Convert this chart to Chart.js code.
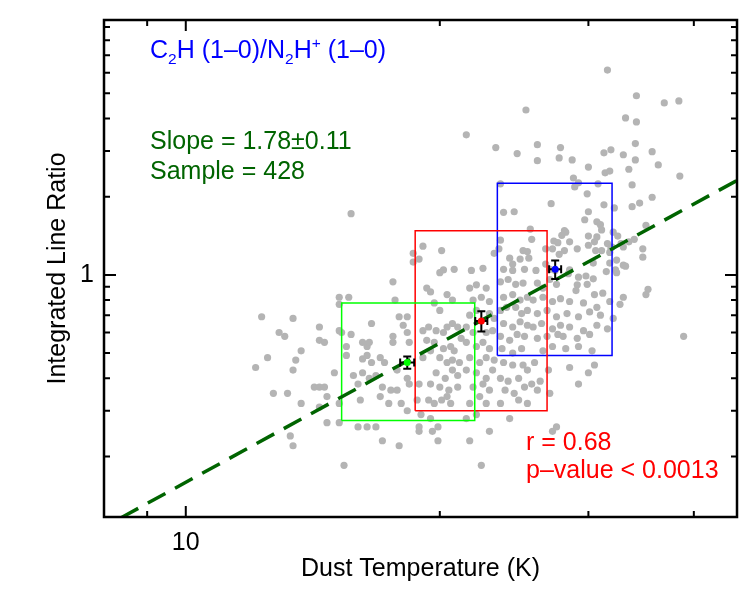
<!DOCTYPE html>
<html>
<head>
<meta charset="utf-8">
<script src="https://cdn.jsdelivr.net/npm/chart.js@4.4.0/dist/chart.umd.min.js"></script>
<style>
    body { margin: 0; background: #fff; }
</style>
</head>
<body>
<canvas id="myChart" width="750" height="600"></canvas>
<script>
// dust temperature (K) and integrated line ratio of each source
const temps = [
    31.6, 34.2, 36.9, 38.4, 25.3, 33.2, 34.2, 21.5, 23.3, 24.7,
    26.1, 27.8, 31.3, 31.9, 34.1, 35.7, 26.1, 27.7, 28.7, 33.0,
    34.1, 30.0, 31.4, 31.8, 33.5, 36.3, 38.5, 28.8, 29.2, 28.9,
    30.8, 33.8, 23.6, 29.9, 27.1, 31.3, 33.8, 34.5, 35.7, 32.2,
    30.0, 29.7, 30.7, 31.0, 31.1, 35.1, 28.1, 28.2, 32.1, 32.5,
    30.0, 30.7, 27.3, 27.6, 28.5, 30.0, 30.5, 31.6, 32.0, 33.5,
    34.0, 32.8, 27.2, 28.1, 27.7, 29.1, 30.6, 31.1, 31.9, 34.8,
    34.8, 30.4, 31.8, 33.0, 23.8, 24.5, 25.6, 25.7, 19.1, 20.1,
    18.6, 18.9, 18.6, 23.6, 23.5, 23.2, 25.4, 25.5, 24.2, 24.9,
    24.4, 26.7, 20.2, 20.8, 21.8, 22.5, 23.8, 25.2, 15.7, 27.9,
    26.7, 25.1, 24.4, 26.0, 27.0, 27.4, 28.5, 28.4, 29.2, 29.8,
    30.4, 29.9, 31.5, 32.3, 32.4, 33.2, 29.1, 29.0, 30.5, 31.2,
    21.7, 22.1, 22.7, 23.6, 24.1, 24.6, 25.1, 26.1, 26.5, 27.0,
    27.5, 19.5, 19.3, 20.0, 17.6, 33.0, 32.4, 31.8, 33.0, 35.3,
    35.1, 38.9, 17.7, 19.7, 20.0, 20.4, 20.7, 21.9, 22.4, 22.9,
    21.7, 22.1, 22.9, 23.2, 23.8, 24.4, 24.9, 25.4, 23.6, 24.0,
    24.6, 25.0, 25.4, 25.8, 26.5, 27.2, 27.8, 26.1, 26.8, 27.5,
    28.5, 29.6, 30.7, 31.8, 32.7, 28.3, 29.2, 30.1, 31.0, 32.1,
    17.9, 18.3, 15.2, 15.2, 15.6, 12.3, 13.4, 16.6, 18.1, 19.1,
    19.4, 19.3, 18.3, 18.4, 19.8, 20.2, 20.4, 20.7, 21.0, 21.2,
    21.5, 21.9, 22.7, 23.1, 23.8, 24.4, 24.9, 25.4, 25.8, 26.4,
    27.2, 27.8, 28.5, 29.6, 30.7, 31.6, 23.6, 24.2, 24.7, 25.2,
    26.1, 26.8, 27.6, 28.0, 29.1, 30.1, 19.7, 21.5, 22.1, 22.5,
    16.2, 16.4, 16.5, 17.6, 17.6, 15.3, 15.7, 12.9, 13.1, 14.4,
    14.4, 14.6, 15.2, 20.2, 20.6, 20.8, 22.9, 23.7, 24.4, 25.0,
    26.5, 27.2, 28.2, 29.2, 30.3, 15.5, 15.5, 16.2, 16.4, 17.0,
    17.2, 16.6, 19.1, 19.5, 20.0, 20.4, 20.7, 21.1, 21.7, 22.3,
    22.7, 23.2, 23.8, 24.4, 25.1, 25.4, 25.9, 26.9, 28.5, 30.5,
    13.7, 13.5, 12.5, 12.1, 13.4, 16.2, 16.5, 16.8, 15.0, 19.8,
    20.3, 20.7, 21.0, 21.5, 22.1, 22.7, 23.1, 17.8, 18.3, 15.8,
    23.6, 24.1, 24.8, 26.3, 25.7, 26.1, 27.0, 18.4, 18.9, 19.5,
    16.0, 17.1, 17.5, 20.0, 20.5, 21.0, 21.9, 22.5, 22.9, 23.9,
    24.5, 25.2, 12.7, 13.2, 14.2, 14.4, 14.6, 14.7, 17.8, 17.0,
    18.0, 17.4, 16.1, 18.8, 19.4, 19.7, 20.1, 20.4, 20.6, 21.7,
    22.3, 22.7, 23.6, 24.8, 25.4, 13.7, 14.4, 15.2, 30.0, 29.2,
    18.3, 19.0, 21.5, 22.1, 24.2, 14.7, 15.2, 16.0, 16.4, 16.8,
    18.9, 18.9, 19.5, 19.9, 19.6, 22.9, 13.3, 13.4, 22.4, 15.4,
    17.1, 17.9, 19.9, 21.7, 27.2, 27.5
];
const ratios = [
    6.14, 4.89, 4.59, 4.67, 4.31, 4.02, 3.88, 3.46, 3.09, 2.93,
    3.17, 3.09, 2.95, 3.03, 3.20, 2.98, 2.75, 2.82, 2.77, 2.90,
    2.77, 2.60, 2.47, 2.51, 2.55, 2.65, 2.40, 2.36, 2.26, 2.18,
    2.24, 2.22, 2.24, 2.05, 1.88, 1.86, 1.83, 1.89, 1.99, 1.81,
    1.75, 1.63, 1.60, 1.56, 1.49, 1.55, 1.48, 1.46, 1.46, 1.41,
    1.41, 1.40, 1.35, 1.33, 1.34, 1.30, 1.34, 1.32, 1.28, 1.34,
    1.37, 1.32, 1.26, 1.24, 1.20, 1.26, 1.24, 1.24, 1.27, 1.26,
    1.17, 1.11, 1.11, 1.09, 1.74, 1.75, 1.50, 1.37, 1.29, 1.24,
    1.21, 1.15, 1.12, 1.36, 1.26, 1.21, 1.23, 1.16, 1.16, 1.15,
    1.10, 1.10, 1.045, 1.05, 1.04, 1.06, 1.05, 1.05, 1.72, 1.42,
    1.26, 1.24, 1.04, 1.04, 1.05, 1.04, 1.045, 1.01, 0.98, 0.99,
    0.966, 0.92, 1.03, 1.045, 1.02, 1.08, 0.916, 0.87, 0.84, 0.85,
    0.89, 0.916, 0.89, 0.94, 0.96, 0.92, 0.93, 0.93, 0.89, 0.96,
    0.92, 0.86, 0.89, 1.02, 0.94, 1.28, 1.14, 1.22, 0.82, 0.88,
    0.84, 0.58, 0.80, 0.78, 0.73, 0.84, 0.80, 0.80, 0.82, 0.79,
    0.70, 0.73, 0.71, 0.68, 0.82, 0.84, 0.80, 0.82, 0.73, 0.75,
    0.75, 0.71, 0.73, 0.80, 0.82, 0.79, 0.81, 0.71, 0.73, 0.69,
    0.79, 0.78, 0.75, 0.79, 0.77, 0.71, 0.69, 0.72, 0.70, 0.68,
    0.69, 0.69, 0.77, 0.82, 0.82, 0.69, 0.68, 0.65, 0.64, 0.61,
    0.63, 0.56, 0.60, 0.55, 0.61, 0.60, 0.63, 0.65, 0.63, 0.57,
    0.63, 0.60, 0.60, 0.61, 0.65, 0.63, 0.66, 0.64, 0.63, 0.65,
    0.62, 0.64, 0.63, 0.61, 0.64, 0.62, 0.58, 0.56, 0.59, 0.58,
    0.57, 0.58, 0.59, 0.58, 0.57, 0.59, 0.55, 0.55, 0.53, 0.55,
    0.55, 0.53, 0.55, 0.58, 0.55, 0.60, 0.59, 0.60, 0.58, 0.63,
    0.56, 0.55, 0.61, 0.52, 0.53, 0.51, 0.52, 0.52, 0.50, 0.52,
    0.51, 0.53, 0.52, 0.53, 0.51, 0.53, 0.49, 0.475, 0.49, 0.48,
    0.46, 0.46, 0.48, 0.51, 0.48, 0.46, 0.47, 0.46, 0.48, 0.46,
    0.48, 0.47, 0.46, 0.45, 0.45, 0.43, 0.46, 0.43, 0.44, 0.45,
    0.51, 0.47, 0.48, 0.44, 0.43, 0.42, 0.40, 0.41, 0.42, 0.42,
    0.40, 0.43, 0.41, 0.43, 0.42, 0.40, 0.43, 0.43, 0.40, 0.41,
    0.40, 0.39, 0.40, 0.39, 0.38, 0.36, 0.35, 0.38, 0.38, 0.38,
    0.38, 0.37, 0.36, 0.37, 0.36, 0.37, 0.37, 0.38, 0.36, 0.36,
    0.35, 0.37, 0.35, 0.35, 0.37, 0.37, 0.37, 0.34, 0.36, 0.34,
    0.32, 0.32, 0.33, 0.33, 0.33, 0.32, 0.33, 0.34, 0.32, 0.32,
    0.34, 0.32, 0.32, 0.33, 0.32, 0.32, 0.31, 0.32, 0.42, 0.38,
    0.30, 0.29, 0.28, 0.29, 0.28, 0.27, 0.27, 0.26, 0.26, 0.26,
    0.26, 0.25, 0.28, 0.26, 0.25, 0.25, 0.24, 0.22, 0.185, 0.185,
    0.23, 0.22, 0.23, 0.23, 0.25, 0.26
];

// binned means (green, red, blue) and their errors
const meanT = [18.3, 22.4, 27.4];
const meanR = [0.46, 0.665, 1.05];
const errT = [0.35, 0.37, 0.45];
const errR = [0.025, 0.06, 0.085];

// bin boxes
const boxTmin = [15.3, 18.7, 23.4];
const boxTmax = [22.0, 26.8, 32.0];
const boxRmin = [0.275, 0.30, 0.49];
const boxRmax = [0.78, 1.48, 2.25];
const binColors = ['#00ff00', '#ff0000', '#0000ff'];

// power-law fit, slope 1.78
const fitT = [8, 45];
const fitR = [0.107, 2.31];

// axis ticks
const xMajorTicks = [10];
const xMinorTicks = [9, 20, 30, 40];
const yMajorTicks = [1];
const yMinorTicks = [0.2, 0.3, 0.4, 0.5, 0.6, 0.7, 0.8, 0.9, 2, 3, 4, 5, 6, 7, 8, 9];

const FONT = '"Liberation Sans", Arial, Helvetica, sans-serif';

var datasets = [];
// means on top
datasets.push({
    data: meanT.map((t, i) => ({ x: t, y: meanR[i] })),
    pointRadius: 3.5,
    pointBackgroundColor: binColors,
    pointBorderWidth: 0,
    order: 0
});
// fit line
datasets.push({
    data: fitT.map((t, i) => ({ x: t, y: fitR[i] })),
    showLine: true,
    borderColor: '#006400',
    borderWidth: 3.5,
    borderDash: [20, 11],
    borderDashOffset: 12,
    pointRadius: 0,
    order: 1
});
// boxes
boxTmin.forEach((t0, i) => {
    datasets.push({
        data: [
            { x: t0, y: boxRmin[i] }, { x: boxTmax[i], y: boxRmin[i] },
            { x: boxTmax[i], y: boxRmax[i] }, { x: t0, y: boxRmax[i] },
            { x: t0, y: boxRmin[i] }
        ],
        showLine: true,
        borderColor: binColors[i],
        borderWidth: 1.5,
        pointRadius: 0,
        order: 2
    });
});
// sources
datasets.push({
    data: temps.map((t, i) => ({ x: t, y: ratios[i] })),
    pointRadius: 3.6,
    pointBackgroundColor: '#b4b4b4',
    pointBorderWidth: 0,
    order: 3
});

const errorBars = {
    id: 'errorBars',
    afterDatasetDraw(chart, args) {
        if (args.index !== 1) return;
        const { ctx, scales: { x, y } } = chart;
        ctx.save();
        ctx.strokeStyle = '#000';
        ctx.lineWidth = 2;
        ctx.beginPath();
        meanT.forEach((t, i) => {
            const px = x.getPixelForValue(t);
            const py = y.getPixelForValue(meanR[i]);
            const yTop = y.getPixelForValue(meanR[i] + errR[i]);
            const yBot = y.getPixelForValue(meanR[i] - errR[i]);
            const xL = x.getPixelForValue(t - errT[i]);
            const xR = x.getPixelForValue(t + errT[i]);
            ctx.moveTo(px, yTop); ctx.lineTo(px, yBot);
            ctx.moveTo(px - 4, yTop); ctx.lineTo(px + 4, yTop);
            ctx.moveTo(px - 4, yBot); ctx.lineTo(px + 4, yBot);
            ctx.moveTo(xL, py); ctx.lineTo(xR, py);
            ctx.moveTo(xL, py - 4); ctx.lineTo(xL, py + 4);
            ctx.moveTo(xR, py - 4); ctx.lineTo(xR, py + 4);
        });
        ctx.stroke();
        ctx.restore();
    }
};

const frameTicks = {
    id: 'frameTicks',
    afterDatasetsDraw(chart) {
        const { ctx, chartArea: a, scales: { x, y } } = chart;
        ctx.save();
        ctx.strokeStyle = '#000';
        ctx.lineWidth = 2;
        ctx.beginPath();
        const xt = (v, len) => {
            const px = x.getPixelForValue(v);
            ctx.moveTo(px, a.bottom); ctx.lineTo(px, a.bottom - len);
            ctx.moveTo(px, a.top); ctx.lineTo(px, a.top + len);
        };
        const yt = (v, len) => {
            const py = y.getPixelForValue(v);
            ctx.moveTo(a.left, py); ctx.lineTo(a.left + len, py);
            ctx.moveTo(a.right, py); ctx.lineTo(a.right - len, py);
        };
        xMajorTicks.forEach(v => xt(v, 11));
        xMinorTicks.forEach(v => xt(v, 6));
        yMajorTicks.forEach(v => yt(v, 12));
        yMinorTicks.forEach(v => yt(v, 6));
        ctx.stroke();
        ctx.lineWidth = 2.5;
        ctx.strokeRect(a.left, a.top, a.right - a.left, a.bottom - a.top);
        ctx.restore();
    }
};

function drawRich(ctx, parts, x, y, size, color) {
    ctx.fillStyle = color;
    ctx.textAlign = 'left';
    ctx.textBaseline = 'alphabetic';
    parts.forEach(p => {
        const kind = p[1];
        const s = kind ? size * 0.62 : size;
        const dy = kind === 'sub' ? size * 0.24 : (kind === 'sup' ? -size * 0.42 : 0);
        ctx.font = s + 'px ' + FONT;
        ctx.fillText(p[0], x, y + dy);
        x += ctx.measureText(p[0]).width;
    });
}

const labels = {
    id: 'labels',
    afterDraw(chart) {
        const { ctx, chartArea: a } = chart;
        ctx.save();
        const lx = a.left + 46;
        drawRich(ctx, [['C'], ['2', 'sub'], ['H (1\u20130)/N'], ['2', 'sub'], ['H'], ['+', 'sup'], [' (1\u20130)']], lx, a.top + 38, 25, '#0000ff');
        drawRich(ctx, [['Slope = 1.78\u00b10.11']], lx, a.top + 129, 25, '#006400');
        drawRich(ctx, [['Sample = 428']], lx, a.top + 159, 25, '#006400');
        drawRich(ctx, [['r = 0.68']], a.left + 422, a.top + 430, 25, '#ff0000');
        drawRich(ctx, [['p\u2013value < 0.0013']], a.left + 422, a.top + 458, 25, '#ff0000');
        ctx.restore();
    }
};

const ctx = document.getElementById('myChart');

new Chart(ctx, {
    type: 'scatter',
    data: { datasets: datasets },
    plugins: [errorBars, frameTicks, labels],
    options: {
        responsive: false,
        devicePixelRatio: 1,
        animation: false,
        layout: { padding: { top: 20, right: 13, left: 0, bottom: 0 } },
        plugins: {
            legend: { display: false },
            tooltip: { enabled: false }
        },
        scales: {
            x: {
                type: 'logarithmic',
                min: 8,
                max: 45,
                bounds: 'data',
                grid: { display: false },
                border: { display: false },
                afterBuildTicks: s => { s.ticks = xMajorTicks.map(v => ({ value: v })); },
                afterFit: s => { s.height = 83; },
                ticks: {
                    callback: v => String(v),
                    autoSkip: false,
                    maxRotation: 0,
                    padding: 3,
                    color: '#000',
                    font: { family: FONT, size: 25 }
                },
                title: {
                    display: true,
                    text: 'Dust Temperature (K)',
                    color: '#000',
                    font: { family: FONT, size: 25 },
                    padding: { top: 0, bottom: 16 }
                }
            },
            y: {
                type: 'logarithmic',
                min: 0.117,
                max: 9.57,
                bounds: 'data',
                grid: { display: false },
                border: { display: false },
                afterBuildTicks: s => { s.ticks = yMajorTicks.map(v => ({ value: v })); },
                afterFit: s => { s.width = 104; },
                ticks: {
                    callback: v => String(v),
                    autoSkip: false,
                    padding: 2,
                    color: '#000',
                    font: { family: FONT, size: 25 }
                },
                title: {
                    display: true,
                    text: 'Integrated Line Ratio',
                    color: '#000',
                    font: { family: FONT, size: 25 },
                    padding: { top: 43, bottom: 0 }
                }
            }
        }
    }
});
</script>
</body>
</html>
